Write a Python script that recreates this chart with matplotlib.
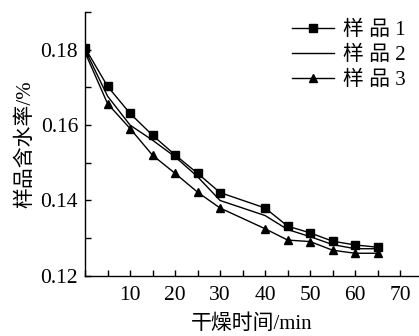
import matplotlib
matplotlib.use("Agg")
import matplotlib.pyplot as plt
from matplotlib.ticker import MultipleLocator

plt.rcParams['font.family'] = ['Liberation Serif', 'Noto Sans CJK SC']
plt.rcParams['axes.unicode_minus'] = False

time_min = [0, 5, 10, 15, 20, 25, 30, 40, 45, 50, 55, 60, 65]
sample1 = [0.1805, 0.1703, 0.1631, 0.1573, 0.1521, 0.1472, 0.1421, 0.1380, 0.1332, 0.1314, 0.1292, 0.1282, 0.1276]
sample2 = [0.1800, 0.1677, 0.1600, 0.1560, 0.1516, 0.1463, 0.1400, 0.1360, 0.1323, 0.1304, 0.1283, 0.1272, 0.1272]
sample3 = [0.1793, 0.1657, 0.1591, 0.1520, 0.1472, 0.1422, 0.1380, 0.1325, 0.1295, 0.1291, 0.1268, 0.1260, 0.1260]
labels = ['样 品 1', '样 品 2', '样 品 3']
xticks = [10, 20, 30, 40, 50, 60, 70]
yticks = [0.12, 0.14, 0.16, 0.18]

fig = plt.figure(figsize=(4.19, 3.36), dpi=100)
ax = fig.add_axes([0.203, 0.179, 0.795, 0.785])

ax.plot(time_min, sample1, color='black', lw=1.0, marker='s', ms=5.5, label=labels[0])
ax.plot(time_min, sample2, color='black', lw=1.0, label=labels[1])
ax.plot(time_min, sample3, color='black', lw=1.0, marker='^', ms=6, label=labels[2])

ax.set_xlim(0, 74)
ax.set_ylim(0.12, 0.19)
ax.set_xticks(xticks)
ax.set_yticks(yticks)
ax.set_yticklabels([f'{v:.2f}' for v in yticks])
ax.xaxis.set_minor_locator(MultipleLocator(5))
ax.yaxis.set_minor_locator(MultipleLocator(0.01))
ax.tick_params(which='both', direction='in', labelsize=15.5, width=1, top=False, right=False)
ax.tick_params(axis='x', which='major', pad=7)
ax.tick_params(axis='y', which='major', pad=5)
ax.tick_params(which='major', length=4)
ax.tick_params(which='minor', length=4)
for s in ['top', 'right']:
    ax.spines[s].set_visible(False)
for s in ['left', 'bottom']:
    ax.spines[s].set_linewidth(1.0)

ax.set_xlabel('干燥时间/min', fontsize=15, labelpad=7)
ax.set_ylabel('样品含水率/%', fontsize=15, labelpad=4)

leg = ax.legend(loc='upper right', bbox_to_anchor=(1.0, 1.015), frameon=False, fontsize=15,
                handlelength=2.0, handletextpad=0.45, labelspacing=0.25, borderaxespad=0.2)

fig.savefig('out.png', dpi=100)
